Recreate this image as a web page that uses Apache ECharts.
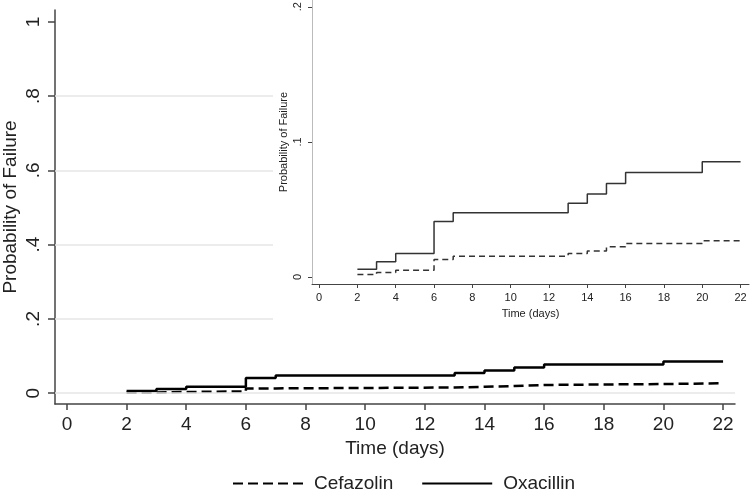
<!DOCTYPE html>
<html><head><meta charset="utf-8">
<script src="https://cdn.jsdelivr.net/npm/echarts@6/dist/echarts.min.js"></script>
<style>html,body{margin:0;padding:0;background:#fff}#c{width:750px;height:491px}</style>
</head><body><div id="c"></div>
<script>
// Data
const times = [2, 3, 4, 6, 7, 13, 14, 15, 16, 20, 22];
const cefazolin = [0.0018, 0.0033, 0.005, 0.013, 0.0154, 0.0174, 0.0193, 0.0223, 0.0248, 0.0268, 0.0268];
const oxacillin = [0.0057, 0.0112, 0.0174, 0.041, 0.0476, 0.0546, 0.0615, 0.0692, 0.0774, 0.0853, 0.0853];
const xTicks = [0, 2, 4, 6, 8, 10, 12, 14, 16, 18, 20, 22];
const mainYTicks = [0, 0.2, 0.4, 0.6, 0.8, 1];
const mainGrid = [0, 0.2, 0.4, 0.6, 0.8];
const insetYTicks = [0, 0.1, 0.2];
const insetGrid = [0, 0.1];

const FONT = 'Liberation Sans, Arial, sans-serif';
const fmtY = v => v === 0 ? '0' : (v === 1 ? '1' : String(+v.toFixed(2)).replace(/^0\./, '.'));
const pairs = arr => times.map((t, i) => [t, arr[i]]);

const chart = echarts.init(document.getElementById('c'), null, {renderer: 'canvas'});
chart.setOption({
  animation: false,
  backgroundColor: '#fff',
  textStyle: {fontFamily: FONT},
  grid: [
    {left: 55, top: 10, right: 15, bottom: 87, outerBoundsMode: 'none', containLabel: false},
    {left: 312, top: 0, right: 1, bottom: 207, outerBoundsMode: 'none', containLabel: false, zlevel: 1}
  ],
  graphic: [{
    type: 'rect', zlevel: 1, z: 0, silent: true,
    shape: {x: 273, y: 0, width: 477, height: 322},
    style: {fill: '#fff'}
  }],
  legend: {
    data: ['Cefazolin', 'Oxacillin'],
    top: 469, left: 227,
    itemWidth: 70, itemHeight: 4, itemGap: 28,
    itemStyle: {color: 'transparent', borderWidth: 0},
    textStyle: {fontSize: 19, color: '#222', fontFamily: FONT, padding: [0, 0, 0, 6]}
  },
  xAxis: [
    {
      gridIndex: 0, type: 'value', min: -0.4, max: 22.4,
      name: 'Time (days)', nameLocation: 'middle', nameGap: 17,
      nameTextStyle: {fontSize: 19, color: '#222'},
      axisLine: {onZero: false, lineStyle: {color: '#444', width: 1.5}},
      axisTick: {customValues: xTicks, length: 6, lineStyle: {color: '#444', width: 1.5}},
      axisLabel: {customValues: xTicks, fontSize: 19, color: '#222', margin: 11},
      splitLine: {show: false}
    },
    {
      gridIndex: 1, type: 'value', min: -0.37, max: 22.44, zlevel: 1, z: 10,
      name: 'Time (days)', nameLocation: 'middle', nameGap: 24,
      nameTextStyle: {fontSize: 11, color: '#222'},
      axisLine: {onZero: false, lineStyle: {color: '#444', width: 1}},
      axisTick: {customValues: xTicks, length: 4, lineStyle: {color: '#444'}},
      axisLabel: {customValues: xTicks, fontSize: 11, color: '#222', margin: 8},
      splitLine: {show: false}
    }
  ],
  yAxis: [
    {
      gridIndex: 0, type: 'value', min: -0.029, max: 1.032,
      name: 'Probability of Failure', nameLocation: 'middle', nameGap: 35, nameMoveOverlap: false,
      nameTextStyle: {fontSize: 19, color: '#222'},
      axisLine: {show: true, onZero: false, lineStyle: {color: '#444', width: 1.5}},
      axisTick: {show: true, customValues: mainYTicks, length: 7, lineStyle: {color: '#444', width: 1.5}},
      axisLabel: {customValues: mainYTicks, rotate: 90, fontSize: 19, color: '#222', margin: 12, formatter: fmtY},
      splitLine: {show: false}
    },
    {
      gridIndex: 1, type: 'value', min: -0.0052, max: 0.205, zlevel: 1, z: 10,
      name: 'Probability of Failure', nameLocation: 'middle', nameGap: 23, nameMoveOverlap: false,
      nameTextStyle: {fontSize: 11, color: '#222'},
      axisLine: {show: true, onZero: false, lineStyle: {color: '#bbb', width: 1}},
      axisTick: {show: true, customValues: insetYTicks, length: 4, lineStyle: {color: '#444'}},
      axisLabel: {customValues: insetYTicks, rotate: 90, fontSize: 11, color: '#222', margin: 9, formatter: fmtY},
      splitLine: {show: false}
    }
  ],
  series: [
    {
      name: 'Cefazolin', type: 'line', step: 'end', xAxisIndex: 0, yAxisIndex: 0, z: 3,
      symbol: 'none', data: pairs(cefazolin),
      lineStyle: {color: '#000', width: 2.5, type: [10, 5]},
      itemStyle: {color: '#000'},
      markLine: {
        silent: true, symbol: 'none', label: {show: false}, animation: false,
        lineStyle: {color: '#e6e6e6', width: 1.5, type: 'solid'},
        data: mainGrid.map(v => ({yAxis: v}))
      }
    },
    {
      name: 'Oxacillin', type: 'line', step: 'end', xAxisIndex: 0, yAxisIndex: 0, z: 3,
      symbol: 'none', data: pairs(oxacillin),
      lineStyle: {color: '#000', width: 2.5, type: 'solid'},
      itemStyle: {color: '#000'}
    },
    {
      name: 'Cefazolin', type: 'line', step: 'end', xAxisIndex: 1, yAxisIndex: 1, zlevel: 1, z: 10,
      symbol: 'none', data: pairs(cefazolin),
      lineStyle: {color: '#333', width: 1.5, type: [6, 4]},
      itemStyle: {color: '#333'},
      markLine: {
        silent: true, symbol: 'none', label: {show: false}, animation: false,
        lineStyle: {color: '#e6e6e6', width: 1, type: 'solid'},
        data: insetGrid.map(v => ({yAxis: v}))
      }
    },
    {
      name: 'Oxacillin', type: 'line', step: 'end', xAxisIndex: 1, yAxisIndex: 1, zlevel: 1, z: 10,
      symbol: 'none', data: pairs(oxacillin),
      lineStyle: {color: '#333', width: 1.5, type: 'solid'},
      itemStyle: {color: '#333'}
    }
  ]
});
</script></body></html>
